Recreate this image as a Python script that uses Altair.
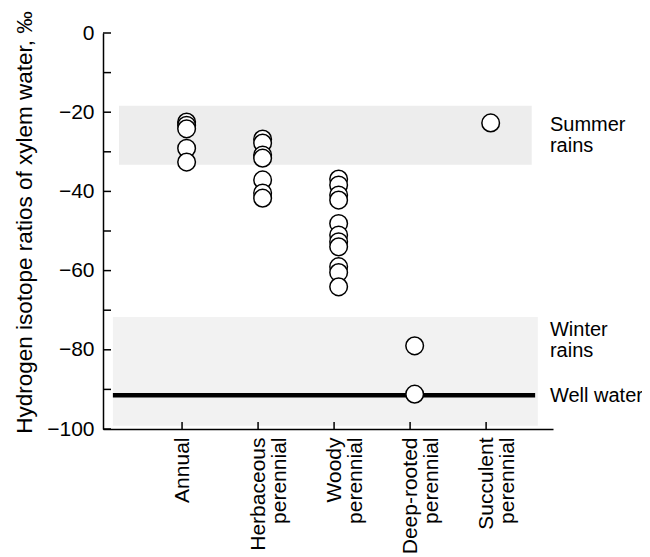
import altair as alt
import pandas as pd

# ---- data ----
categories = ["Annual", "Herbaceous perennial", "Woody perennial",
              "Deep-rooted perennial", "Succulent perennial"]
annual = [-22.5, -23.3, -24.2, -29.1, -32.6]
herbaceous = [-26.8, -27.8, -30.8, -31.6, -37.1, -40.4, -41.7]
woody = [-36.9, -38.4, -40.9, -42.2, -48.1, -51.0, -52.7, -54.0, -59.0, -60.5, -64.1]
deep_rooted = [-79.0, -91.2]
succulent = [-22.7]

# rain isotope ranges (shaded bands) and well water value
band_names = ["Summer rains", "Winter rains"]
band_low = [-33.3, -99.2]
band_high = [-18.4, -71.7]
band_x_start = [-0.83, -0.91]
band_x_end = [4.60, 4.68]
band_colors = ["#ededed", "#f2f2f2"]
well_water = -91.5
well_x_start = -0.91
well_x_end = 4.645

annot_text = ["Summer", "rains", "Winter", "rains", "Well water"]
annot_y = [-23.2, -28.5, -75.0, -80.3, -91.6]
annot_x = 4.84

y_ticks = list(range(-100, 1, 10))

# ---- tables ----
series = [annual, herbaceous, woody, deep_rooted, succulent]
pts = pd.DataFrame([{"cat": i, "value": v} for i, s in enumerate(series) for v in s])
bands = pd.DataFrame({"name": band_names, "lo": band_low, "hi": band_high,
                      "x0": band_x_start, "x1": band_x_end, "color": band_colors})
well = pd.DataFrame({"y": [well_water], "x0": [well_x_start], "x1": [well_x_end]})
annots = pd.DataFrame({"text": annot_text, "y": annot_y, "x": [annot_x] * len(annot_text)})
yt = pd.DataFrame({"y": y_ticks})
xt = pd.DataFrame({"cat": list(range(len(categories)))})

FONT = "Liberation Sans"
xscale = alt.Scale(domain=[-1.04, 4.88], nice=False, zero=False)
yscale = alt.Scale(domain=[-100, 0], nice=False)

label_arr = "[" + ",".join(
    "[" + ",".join("'" + w + "'" for w in c.split(" ")) + "]" for c in categories) + "]"

xaxis = alt.Axis(values=list(range(len(categories))), labelExpr=label_arr + "[datum.value]",
                 title=None, grid=False, ticks=False, tickSize=0, domain=True,
                 domainColor="black", domainWidth=1.5, labelAngle=270, labelAlign="right",
                 labelBaseline="middle", labelPadding=8, labelFont=FONT, labelFontSize=21,
                 labelColor="black", labelLineHeight=21)
yaxis = alt.Axis(values=list(range(-100, 1, 20)), title="Hydrogen isotope ratios of xylem water, ‰",
                 grid=False, ticks=False, tickSize=0, domain=True, domainColor="black",
                 domainWidth=1.5, labelFont=FONT, labelFontSize=21, labelColor="black",
                 labelPadding=9, labelExpr="replace(format(datum.value, 'd'), '-', '\u2212')",
                 titleFont=FONT, titleFontSize=22.5, titleFontWeight="normal", titleColor="black",
                 titleAngle=270, titleAlign="center", titleBaseline="alphabetic",
                 titleX=-72, titleY=189)

band_layer = alt.Chart(bands).mark_rect().encode(
    x=alt.X("x0:Q", scale=xscale, axis=xaxis), x2="x1:Q",
    y=alt.Y("lo:Q", scale=yscale, axis=yaxis), y2="hi:Q",
    color=alt.Color("color:N", scale=None))

well_layer = alt.Chart(well).mark_rule(color="black", strokeWidth=4.5).encode(
    x=alt.X("x0:Q", scale=xscale), x2="x1:Q", y=alt.Y("y:Q", scale=yscale))

ytick_layer = alt.Chart(yt).mark_rule(color="black", strokeWidth=1.5).encode(
    y=alt.Y("y:Q", scale=yscale), x=alt.value(0), x2=alt.value(8))

xtick_layer = alt.Chart(xt).mark_rule(color="black", strokeWidth=1.5).encode(
    x=alt.X("cat:Q", scale=xscale), y=alt.value(389), y2=alt.value(396))

# circles sit slightly to the right of their category tick in the reference
point_layer = alt.Chart(pts).transform_calculate(
    xp="datum.cat + 0.06"
).mark_point(shape="circle", filled=True, fill="white", stroke="black",
             strokeWidth=1.5, size=310, opacity=1).encode(
    x=alt.X("xp:Q", scale=xscale), y=alt.Y("value:Q", scale=yscale))

annot_layer = alt.Chart(annots).mark_text(align="left", baseline="middle", font=FONT,
                                          fontSize=20, color="black").encode(
    x=alt.X("x:Q", scale=xscale), y=alt.Y("y:Q", scale=yscale), text="text:N")

chart = alt.layer(band_layer, well_layer, ytick_layer, xtick_layer, point_layer,
                  annot_layer).properties(
    width=450, height=396,
    autosize=alt.AutoSizeParams(type="none"),
    padding={"left": 95, "top": 25, "right": 89, "bottom": 128},
    background="white",
).configure_view(stroke=None)

chart.save("out.html", embed_options={"renderer": "svg", "actions": False})
